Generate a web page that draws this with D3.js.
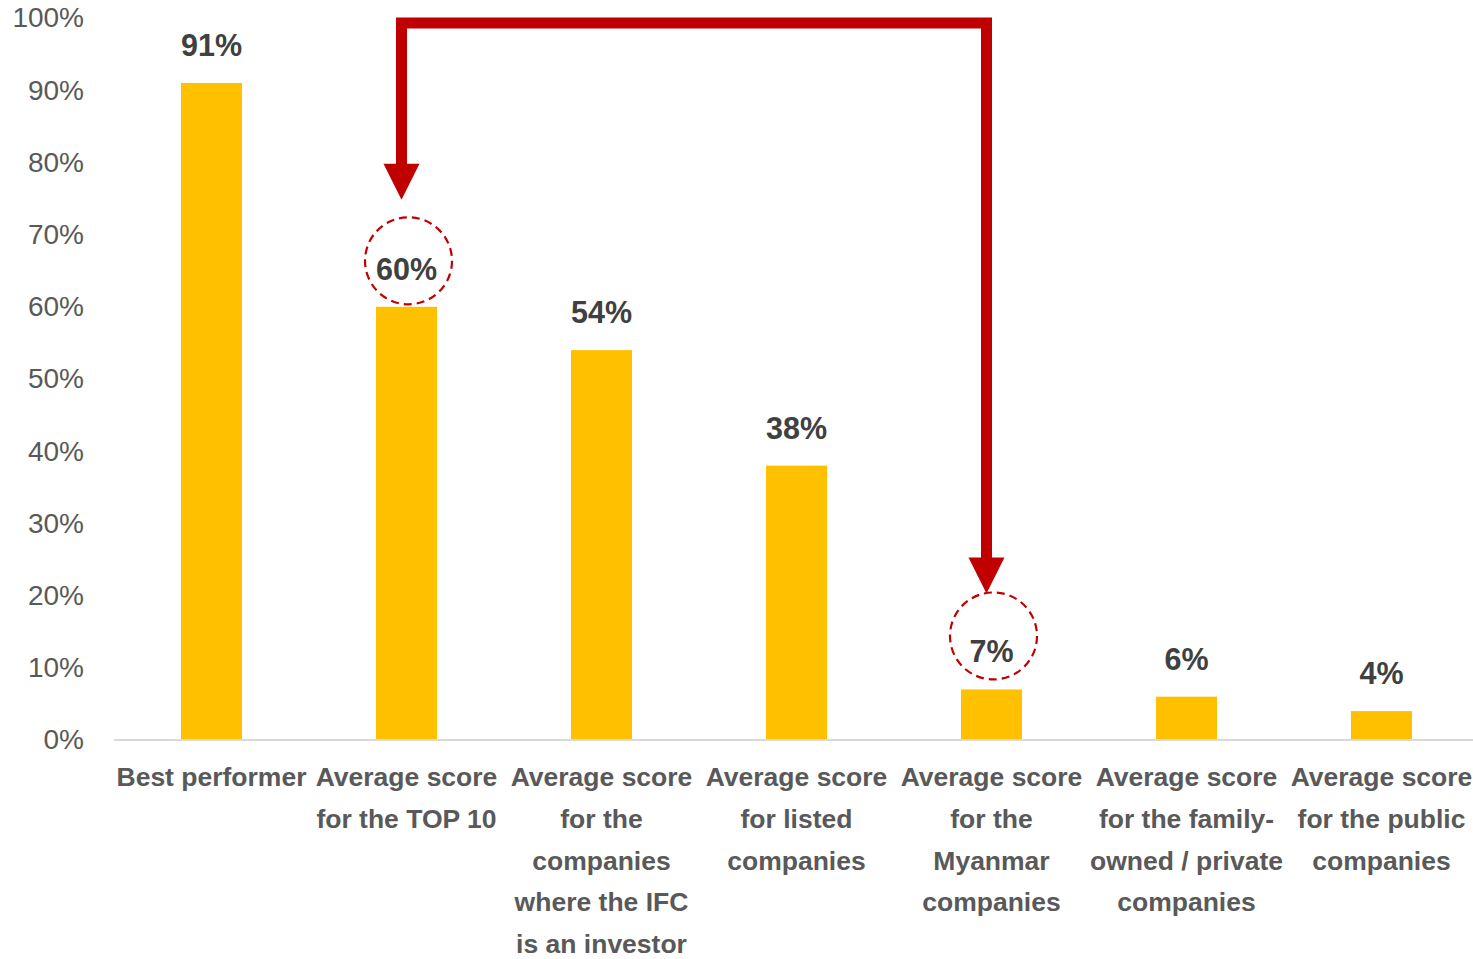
<!DOCTYPE html>
<html>
<head>
<meta charset="utf-8">
<script src="https://cdn.jsdelivr.net/npm/d3@7"></script>
<style>
  html, body { margin: 0; padding: 0; background: #fff; }
  svg { display: block; }
</style>
</head>
<body>
<svg id="chart" width="1473" height="959"></svg>
<script>
const categories = [
  ["Best performer"],
  ["Average score", "for the TOP 10"],
  ["Average score", "for the", "companies", "where the IFC", "is an investor"],
  ["Average score", "for listed", "companies"],
  ["Average score", "for the", "Myanmar", "companies"],
  ["Average score", "for the family-", "owned / private", "companies"],
  ["Average score", "for the public", "companies"]
];
const values = [0.91, 0.60, 0.54, 0.38, 0.07, 0.06, 0.04];
const tickValues = [0, 0.1, 0.2, 0.3, 0.4, 0.5, 0.6, 0.7, 0.8, 0.9, 1.0];
const highlightFrom = 4; // Myanmar companies
const highlightTo = 1;   // TOP 10

const svg = d3.select("#chart");
const font = "'Liberation Sans', Arial, sans-serif";
const red = "#C00000";

const x = d3.scaleBand()
  .domain(d3.range(categories.length))
  .range([114, 1479])
  .paddingInner(0.687)
  .paddingOuter(0.3435);

const y = d3.scaleLinear().domain([0, 1]).range([740, 18]);

// Y axis labels
const yAxis = d3.axisLeft(y).tickValues(tickValues).tickFormat(d3.format(".0%")).tickSize(0).tickPadding(0);
const gy = svg.append("g").attr("transform", "translate(84,0)").call(yAxis);
gy.select(".domain").remove();
gy.selectAll("text")
  .attr("font-family", font)
  .attr("font-size", 28)
  .attr("fill", "#595959");

// Bars
svg.append("g").selectAll("rect")
  .data(values)
  .join("rect")
  .attr("x", (d, i) => x(i))
  .attr("y", d => y(d))
  .attr("width", x.bandwidth())
  .attr("height", d => y(0) - y(d))
  .attr("fill", "#FFC000");

// Baseline
svg.append("line")
  .attr("x1", 114).attr("x2", 1473)
  .attr("y1", y(0)).attr("y2", y(0))
  .attr("stroke", "#D9D9D9").attr("stroke-width", 2);

// Data labels
svg.append("g").selectAll("text")
  .data(values)
  .join("text")
  .attr("x", (d, i) => x(i) + x.bandwidth() / 2)
  .attr("y", d => y(d) - 38)
  .attr("dy", "0.36em")
  .attr("text-anchor", "middle")
  .attr("font-family", font)
  .attr("font-weight", "bold")
  .attr("font-size", 30.5)
  .attr("fill", "#404040")
  .text(d => d3.format(".0%")(d));

// Category labels
const catG = svg.append("g");
categories.forEach((lines, i) => {
  const t = catG.append("text")
    .attr("text-anchor", "middle")
    .attr("font-family", font)
    .attr("font-weight", "bold")
    .attr("font-size", 26.5)
    .attr("fill", "#595959");
  lines.forEach((ln, j) => {
    t.append("tspan")
      .attr("x", x(i) + x.bandwidth() / 2)
      .attr("y", 776.5 + j * 41.8)
      .attr("dy", "0.36em")
      .text(ln);
  });
});

// Dashed circles around highlighted labels
[[highlightTo, 46], [highlightFrom, 53.5]].forEach(([i, off]) => {
  svg.append("circle")
    .attr("cx", x(i) + x.bandwidth() / 2 + 2)
    .attr("cy", y(values[i]) - off)
    .attr("r", 43.5)
    .attr("fill", "none")
    .attr("stroke", red)
    .attr("stroke-width", 2.2)
    .attr("stroke-dasharray", "8,5");
});

// Elbow arrow
const xl = x(highlightTo) + x.bandwidth() / 2 - 5;
const xr = x(highlightFrom) + x.bandwidth() / 2 - 5;
const yTop = y(1) + 5;
const headLen = 36, headW = 36;
const tipL = y(values[highlightTo]) - 107;
const tipR = y(values[highlightFrom]) - 96;
svg.append("path")
  .attr("d", `M${xl},${tipL - headLen + 2} L${xl},${yTop} L${xr},${yTop} L${xr},${tipR - headLen + 2}`)
  .attr("fill", "none")
  .attr("stroke", red)
  .attr("stroke-width", 11)
  .attr("stroke-linejoin", "miter");
[[xl, tipL], [xr, tipR]].forEach(([px, py]) => {
  svg.append("path")
    .attr("d", `M${px - headW / 2},${py - headLen} L${px + headW / 2},${py - headLen} L${px},${py} Z`)
    .attr("fill", red);
});
</script>
</body>
</html>
